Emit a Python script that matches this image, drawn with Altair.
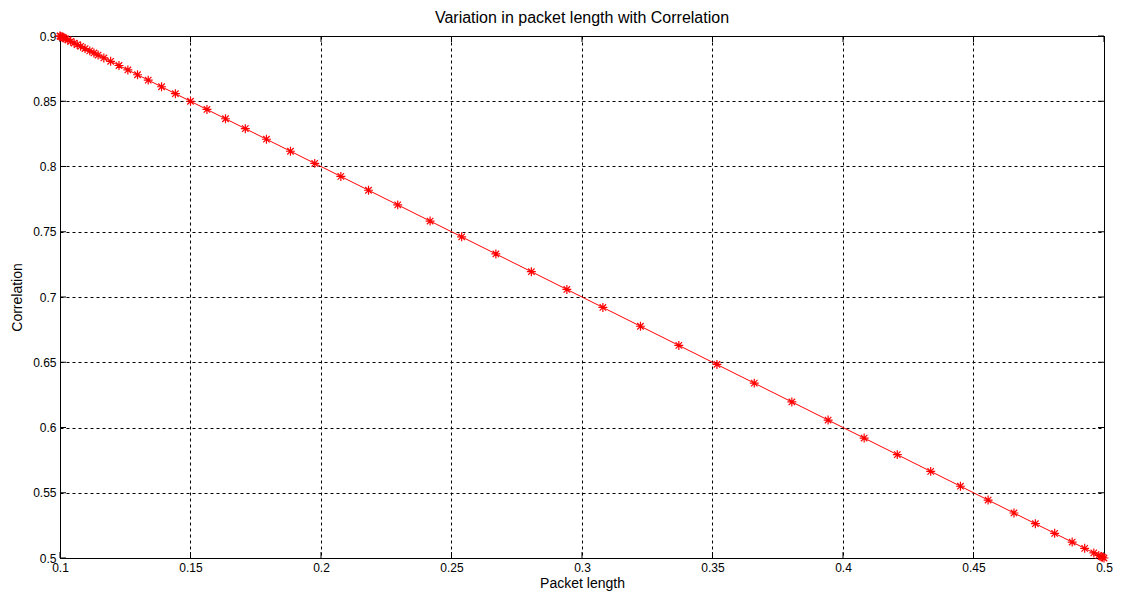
import altair as alt
import pandas as pd

# Data
packet_length = [0.1000, 0.1001, 0.1004, 0.1009, 0.1015, 0.1022, 0.1030, 0.1041, 0.1054, 0.1066,
                 0.1079, 0.1096, 0.1114, 0.1130, 0.1146, 0.1168, 0.1194, 0.1226, 0.1260, 0.1297,
                 0.1338, 0.1389, 0.1442, 0.1500, 0.1563, 0.1634, 0.1710, 0.1791, 0.1883, 0.1976,
                 0.2076, 0.2182, 0.2294, 0.2418, 0.2539, 0.2670, 0.2806, 0.2942, 0.3080, 0.3224,
                 0.3371, 0.3517, 0.3660, 0.3804, 0.3943, 0.4081, 0.4208, 0.4336, 0.4450, 0.4556,
                 0.4655, 0.4737, 0.4811, 0.4878, 0.4926, 0.4961, 0.4980, 0.4989, 0.4994, 0.5000]
correlation = [0.9000, 0.8999, 0.8996, 0.8991, 0.8985, 0.8978, 0.8970, 0.8959, 0.8946, 0.8934,
               0.8921, 0.8904, 0.8886, 0.8870, 0.8854, 0.8832, 0.8806, 0.8774, 0.8740, 0.8703,
               0.8662, 0.8611, 0.8558, 0.8500, 0.8437, 0.8366, 0.8290, 0.8209, 0.8117, 0.8024,
               0.7924, 0.7818, 0.7706, 0.7582, 0.7461, 0.7330, 0.7194, 0.7058, 0.6920, 0.6776,
               0.6629, 0.6483, 0.6340, 0.6196, 0.6057, 0.5919, 0.5792, 0.5664, 0.5550, 0.5444,
               0.5345, 0.5263, 0.5189, 0.5122, 0.5074, 0.5039, 0.5020, 0.5011, 0.5006, 0.5000]
x_ticks = [0.1, 0.15, 0.2, 0.25, 0.3, 0.35, 0.4, 0.45, 0.5]
y_ticks = [0.5, 0.55, 0.6, 0.65, 0.7, 0.75, 0.8, 0.85, 0.9]

df = pd.DataFrame({"x": packet_length, "y": correlation})
xt = pd.DataFrame({"t": x_ticks})
yt = pd.DataFrame({"t": y_ticks})

W, H = 1044, 522
FONT = "Liberation Sans"
RED = "#ff0000"
ASTERISK = "M0,-1L0,1M-1,0L1,0M-0.72,-0.72L0.72,0.72M-0.72,0.72L0.72,-0.72"

xscale = alt.Scale(domain=[0.1, 0.5], nice=False, zero=False)
yscale = alt.Scale(domain=[0.5, 0.9], nice=False, zero=False)

common = dict(grid=True, gridDash=[3, 3], gridColor="#000000", gridOpacity=1,
              ticks=False, domain=False, labelFlush=False,
              labelFont=FONT, labelFontSize=12, labelColor="#000000",
              titleFont=FONT, titleFontSize=14, titleFontWeight="normal",
              titleColor="#000000", labelExpr="format(datum.value, '~g')")
xaxis = alt.Axis(values=x_ticks, title="Packet length", labelPadding=4, titlePadding=3, **common)
yaxis = alt.Axis(values=y_ticks, title="Correlation", labelPadding=4, titlePadding=8, **common)

line = alt.Chart(df).mark_line(color=RED, strokeWidth=1).encode(
    x=alt.X("x:Q", scale=xscale, axis=xaxis),
    y=alt.Y("y:Q", scale=yscale, axis=yaxis),
)
pts = alt.Chart(df).mark_point(shape=ASTERISK, filled=False, color=RED, size=80,
                               strokeWidth=1.2, opacity=1).encode(
    x=alt.X("x:Q", scale=xscale),
    y=alt.Y("y:Q", scale=yscale),
)

tick_top = alt.Chart(xt).mark_rule(color="#000000", strokeWidth=1).encode(
    x=alt.X("t:Q", scale=xscale), y=alt.value(0), y2=alt.value(6))
tick_bot = alt.Chart(xt).mark_rule(color="#000000", strokeWidth=1).encode(
    x=alt.X("t:Q", scale=xscale), y=alt.value(H), y2=alt.value(H - 6))
tick_left = alt.Chart(yt).mark_rule(color="#000000", strokeWidth=1).encode(
    y=alt.Y("t:Q", scale=yscale), x=alt.value(0), x2=alt.value(6))
tick_right = alt.Chart(yt).mark_rule(color="#000000", strokeWidth=1).encode(
    y=alt.Y("t:Q", scale=yscale), x=alt.value(W), x2=alt.value(W - 6))

chart = alt.layer(tick_top, tick_bot, tick_left, tick_right, line, pts).properties(
    width=W, height=H,
    title=alt.TitleParams("Variation in packet length with Correlation", fontSize=16,
                          font=FONT, fontWeight="normal", color="#000000", offset=3,
                          anchor="middle"),
    autosize=alt.AutoSizeParams(type="none"),
    padding={"left": 52, "top": 28, "right": 9, "bottom": 35},
    background="#ffffff",
).configure_view(
    stroke="#000000", strokeWidth=1
)

chart.save("out.html", embed_options={"renderer": "svg", "actions": False})
